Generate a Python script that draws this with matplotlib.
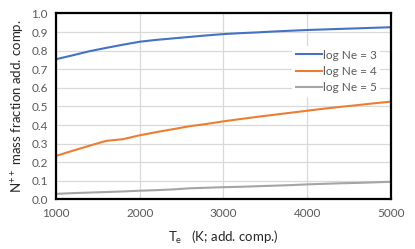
import matplotlib
matplotlib.use("Agg")
import matplotlib.pyplot as plt

plt.rcParams['font.family'] = ['Lato', 'DejaVu Sans']
plt.rcParams['mathtext.default'] = 'regular'

te = [1000, 1200, 1400, 1600, 1800, 2000, 2200, 2400, 2600, 2800, 3000,
      3200, 3400, 3600, 3800, 4000, 4200, 4400, 4600, 4800, 5000]
ne3 = [0.754, 0.775, 0.797, 0.815, 0.832, 0.848, 0.858, 0.866, 0.874, 0.882, 0.889,
       0.894, 0.898, 0.903, 0.907, 0.911, 0.914, 0.917, 0.920, 0.923, 0.926]
ne4 = [0.234, 0.262, 0.289, 0.315, 0.324, 0.345, 0.362, 0.378, 0.394, 0.406, 0.420,
       0.432, 0.444, 0.455, 0.466, 0.477, 0.488, 0.498, 0.507, 0.517, 0.526]
ne5 = [0.030, 0.034, 0.037, 0.040, 0.043, 0.047, 0.050, 0.054, 0.060, 0.063, 0.066,
       0.068, 0.071, 0.074, 0.077, 0.081, 0.084, 0.087, 0.089, 0.092, 0.095]
labels = ["log Ne = 3", "log Ne = 4", "log Ne = 5"]
colors = ["#4472C4", "#ED7D31", "#A5A5A5"]

fig = plt.figure(figsize=(4.15, 2.49), dpi=100)
ax = fig.add_axes([0.135, 0.199, 0.807, 0.747])

for ys, lab, c in zip([ne3, ne4, ne5], labels, colors):
    ax.plot(te, ys, color=c, lw=1.5, label=lab)

ax.set_xlim(1000, 5000)
ax.set_ylim(0, 1.0)
ax.set_xticks([1000, 2000, 3000, 4000, 5000])
ax.set_yticks([i / 10 for i in range(11)])
ax.set_yticklabels([f"{i / 10:.1f}" for i in range(11)])
ax.grid(True, color="#D9D9D9", lw=0.9)
ax.set_axisbelow(True)
ax.tick_params(length=0, labelsize=8.5, labelcolor="#595959", pad=6)
for s in ax.spines.values():
    s.set_linewidth(1.6)
    s.set_color("black")

ax.set_xlabel("T$_e$   (K; add. comp.)", fontsize=9.5, color="#262626", labelpad=7)
ax.set_ylabel("N$^{++}$ mass fraction add. comp.", fontsize=9.5, color="#262626", labelpad=3)

leg = ax.legend(loc="upper left", bbox_to_anchor=(0.705, 0.825), frameon=True,
                fontsize=8.5, handlelength=2.2, handletextpad=0.1,
                labelspacing=0.45, borderpad=0.3, borderaxespad=0)
leg.get_frame().set_edgecolor("none")
leg.get_frame().set_facecolor("white")
leg.get_frame().set_alpha(1)
for t in leg.get_texts():
    t.set_color("#595959")

fig.savefig("out.png", dpi=100)
